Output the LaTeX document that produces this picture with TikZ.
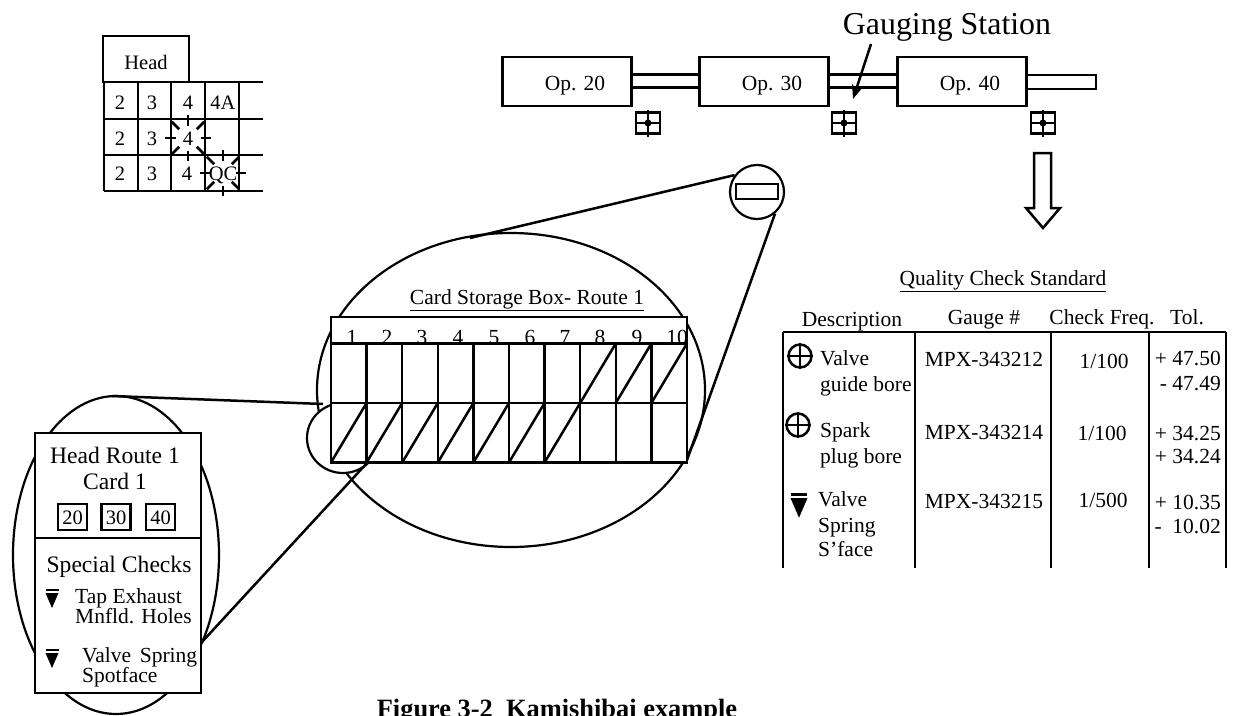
\documentclass[tikz,border=0pt]{standalone}
\usepackage{fontspec}
\setmainfont{Liberation Serif}
\usetikzlibrary{shapes.geometric, arrows.meta, positioning}
\tikzset{
  basebox/.style={rectangle, draw=black, line width=2.5pt, fill=white,
                  inner sep=0pt, outer sep=0pt},
  opbox/.style={basebox, minimum width=129pt, minimum height=49pt},
  gaugebox/.style={basebox, minimum width=24pt, minimum height=21pt},
  cardcell/.style={basebox, minimum width=35.6pt, minimum height=59.5pt},
  stickbox/.style={basebox, minimum width=29pt, minimum height=26pt},
  lens/.style={ellipse, draw=black, line width=2.2pt, fill=white, inner sep=0pt},
  txt/.style={inner sep=0pt, text height=14.5pt, text depth=0.5pt,
              font=\fontsize{21.5}{24}\selectfont},
  smalltxt/.style={txt, font=\fontsize{20.5}{24}\selectfont},
  lefttxt/.style={txt, anchor=west},
  righttxt/.style={txt, anchor=east},
  wire/.style={line width=2.5pt},
  leader/.style={line width=2.5pt, -{Stealth[length=14pt, width=11pt]}},
  spark/.style={line width=2.5pt},
  flatmark/.pic={
    \fill[black] (-6.5,0) rectangle (6.5,2);
    \fill[black] (-6.5,4) -- (6.5,4) -- (0,19) -- cycle;
  }
}
\begin{document}
\begin{tikzpicture}[x=1pt, y=-1pt, node distance=68pt]
  \useasboundingbox (0,0) rectangle (1234,715);
  \clip (0,0) rectangle (1234,715);

  % Routing board
  \node[basebox, minimum width=86pt, minimum height=46pt] (headbox) at (146,59) {};
  \node[smalltxt] (headlab) at (146,62) {Head};
  \foreach \gy/\gname in {82/ga, 119/gb, 155/gc, 191/gd} {
    \coordinate (\gname l) at (104,\gy);
    \coordinate (\gname r) at (263,\gy);
    \draw[wire] (\gname l) -- (\gname r);
  }
  \foreach \gx in {104, 138, 171, 205, 239}
    \draw[wire] (\gx,82) -- (\gx,191);
  \foreach \nx/\ny/\ntext/\nname in {120/102/2/ra, 152/102/3/rb, 188/102/4/rc, 223/102/4A/rd,
      120/138/2/sa, 152/138/3/sb, 188/138/4/sc,
      120/173/2/ta, 152/173/3/tb, 187/173/4/tc, 223/173/QC/td}
    \node[smalltxt] (\nname) at (\nx,\ny) {\ntext};
  \foreach \cname in {sc, td}
    \foreach \ang in {0, 45, ..., 315}
      \draw[spark] ([shift={(\ang:12.5)}]\cname.center) -- ([shift={(\ang:23)}]\cname.center);

  % Line with gauges
  \node[opbox] (op20) at (567,81.5) {};
  \node[opbox, right=68pt of op20] (op30) {};
  \node[opbox, right=69pt of op30] (op40) {};
  \coordinate (lineend) at (1096,82.5);
  \foreach \from/\to in {op20/op30, op30/op40} {
    \draw[wire] ([yshift=7pt]\from.east) -- ([yshift=7pt]\to.west);
    \draw[wire] ([yshift=-6pt]\from.east) -- ([yshift=-6pt]\to.west);
  }
  \draw[wire] ([yshift=6.5pt]op40.east) -| ([yshift=6.5pt]lineend) -- ([yshift=-6.5pt]lineend) -- ([yshift=-6.5pt]lineend -| op40.east);
  \foreach \onode/\otext in {op20/Op. 20, op30/Op. 30, op40/Op. 40}
    \node[txt, xshift=8pt, yshift=-1.5pt] (\onode lab) at (\onode) {\otext};
  \foreach \gx/\gname in {648/gauge20, 844/gauge30, 1043/gauge40} {
    \node[gaugebox] (\gname) at (\gx,123) {};
    \draw[line width=1.4pt] ([yshift=3pt]\gname.north) -- ([yshift=-3pt]\gname.south);
    \draw[line width=2pt] (\gname.west) -- (\gname.east);
    \fill (\gname.center) circle (3.5pt);
  }
  \node[txt, font=\fontsize{31.9}{34}\selectfont, text height=21pt] (gstation) at (947,24) {Gauging Station};
  \coordinate (gtop) at (871,44);
  \coordinate (gtip) at (853,99);
  \draw[leader] (gtop) -- (gtip);

  % Hollow arrow
  \draw[line width=2.5pt, fill=white, line join=miter]
    (1034,153) -- (1051,153) -- (1051,208) -- (1060,208) -- (1043,228)
    -- (1026,208) -- (1034,208) -- cycle;

  % Card storage box and the lenses
  \node[lens, minimum width=388pt, minimum height=314pt] (bigview) at (511,390) {};
  \coordinate (bigtop) at (470,238);
  \coordinate (bigright) at (687,460);
  \node[lens, minimum width=54pt, minimum height=54pt] (gaugeview) at (757,192) {};
  \node[basebox, minimum width=42pt, minimum height=15pt] (gaugeslot) at (757,191.5) {};
  \draw[wire] (gaugeview.143) -- (bigtop);
  \draw[wire] (gaugeview.-50) -- (bigright);
  \node[lens, minimum width=206pt, minimum height=318pt] (cardview) at (116,555) {};
  \node[lens, minimum width=72pt, minimum height=70pt] (pickview) at (343,438) {};
  \coordinate (cardtop) at (112,396);
  \coordinate (pickleft) at (323,404);
  \coordinate (pickbot) at (367,463);
  \draw[wire] (cardtop) -- (pickleft);
  \node[txt] (storelab) at (527,297) {\underline{Card Storage Box- Route 1}};
  \node[basebox, minimum width=356pt, minimum height=27pt] (storehead) at (509,330.5) {};
  \foreach \sx/\stext in {352/1, 387/2, 422/3, 458/4, 494/5, 530/6, 565/7, 600/8, 637/9, 677/10}
    \node[txt] (num\stext) at (\sx,337.5) {\stext};
  \foreach \i in {1,...,10} {
    \node[cardcell] (top\i) at ({331+35.6*(\i-0.5)},373.2) {};
    \node[cardcell] (bot\i) at ({331+35.6*(\i-0.5)},432.7) {};
  }
  \foreach \i in {8, 9, 10}
    \draw[wire] (top\i.south west) -- (top\i.north east);
  \foreach \i in {1,...,7}
    \draw[wire] (bot\i.south west) -- (bot\i.north east);

  % Card
  \coordinate (cardright) at (201,643);
  \draw[wire] (cardright) -- (pickbot);
  \node[basebox, minimum width=166pt, minimum height=260pt] (card) at (118,563) {};
  \draw[wire] (card.west |- 0,538) -- (card.east |- 0,538);
  \node[txt, font=\fontsize{23.6}{26}\selectfont] (cardtitle) at (115,456) {Head Route 1};
  \node[txt, font=\fontsize{23.6}{26}\selectfont] (cardno) at (115,482) {Card 1};
  \foreach \bx/\btext in {72.5/20, 116/30, 160.5/40} {
    \node[stickbox] (stick\btext) at (\bx,517) {};
    \node[smalltxt] (stick\btext lab) at (stick\btext) {\btext};
  }
  \node[txt, font=\fontsize{23.6}{26}\selectfont] (speclab) at (119,565) {Special Checks};
  \node[lefttxt] (tapa) at (75,596) {Tap Exhaust};
  \node[lefttxt] (tapb) at (75,616) {Mnfld. Holes};
  \node[lefttxt] (vala) at (82,655) {Valve\hspace{8.7pt}Spring};
  \node[lefttxt] (valb) at (82,675) {Spotface};
  \pic at (52,589) {flatmark};
  \pic at (52,649) {flatmark};

  % Quality check table
  \node[txt] (qclab) at (1003,278) {\underline{Quality Check Standard}};
  \foreach \hx/\hy/\htext/\hname in {852/319/Description/hdesc, 984/317/Gauge \#/hgauge,
      1102/317/Check Freq./hfreq, 1187/317/Tol./htol}
    \node[txt] (\hname) at (\hx,\hy) {\htext};
  \coordinate (tabl) at (783,332);
  \coordinate (tabr) at (1226,332);
  \draw[wire] (tabl) -- (tabr);
  \foreach \tx in {783, 915, 1051, 1149, 1226}
    \draw[wire] (\tx,332) -- (\tx,568);
  \foreach \dx/\dy/\dtext/\dname in {820/358/Valve/da, 820/384/guide bore/db,
      820/430/Spark/dc, 820/456/plug bore/dd,
      818/499/Valve/de, 818/525/Spring/df, 818/549/S’face/dg}
    \node[lefttxt] (\dname) at (\dx,\dy) {\dtext};
  \foreach \mx/\my/\mtext/\mname in {984/359/MPX-343212/ma, 984/432/MPX-343214/mb, 984/501/MPX-343215/mc}
    \node[txt] (\mname) at (\mx,\my) {\mtext};
  \node[txt] (fa) at (1104,361) {1/100};
  \node[txt] (fb) at (1102,433) {1/100};
  \node[txt] (fc) at (1103,500) {1/500};
  \foreach \ty/\ttext/\tname in {358/+ 47.50/ta, 383/- 47.49/tb, 433/+ 34.25/tc,
      456/+ 34.24/td, 502/+ 10.35/te, 526/-~ 10.02/tf}
    \node[righttxt] (tol\tname) at (1221,\ty) {\ttext};
  \foreach \cx/\cy/\cname in {800/356/circa, 798/425/circb} {
    \node[circle, draw=black, line width=2.5pt, minimum size=23pt, inner sep=0pt] (\cname) at (\cx,\cy) {};
    \draw[line width=2.2pt] (\cname.north) -- (\cname.south);
    \draw[line width=2.2pt] (\cname.west) -- (\cname.east);
  }
  \pic[scale=1.3] at (799,493) {flatmark};

  \node[txt, font=\fontsize{26.4}{28}\bfseries\selectfont, text height=17pt] (caption) at (557,709) {Figure 3-2~ Kamishibai example};
\end{tikzpicture}
\end{document}
